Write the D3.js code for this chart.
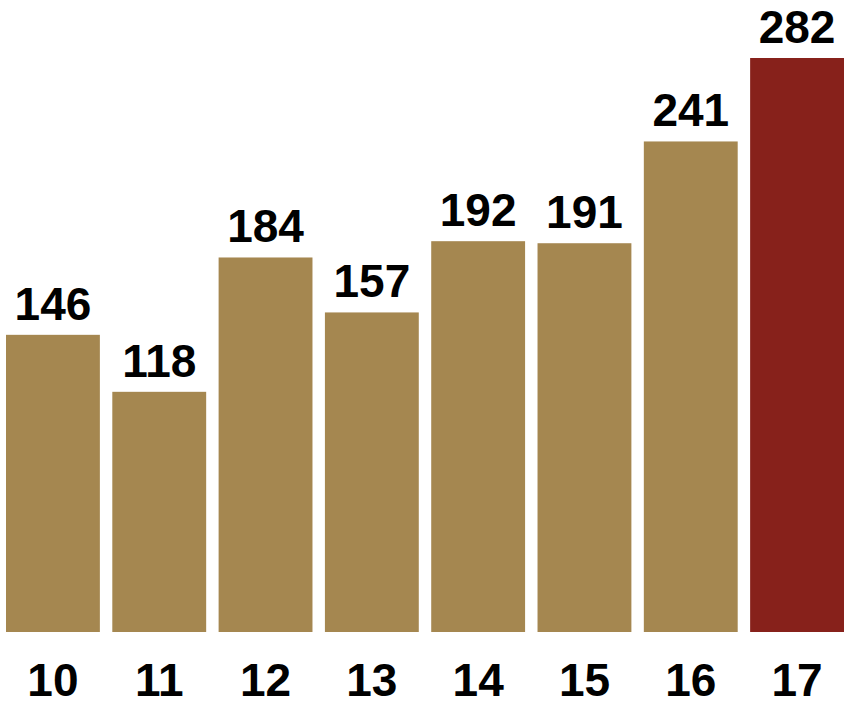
<!DOCTYPE html>
<html>
<head>
<meta charset="utf-8">
<script src="https://cdn.jsdelivr.net/npm/d3@7"></script>
<style>
  body { margin: 0; background: #fff; }
  svg text { font-family: "Liberation Sans", Arial, sans-serif; font-weight: bold; }
</style>
</head>
<body>
<div class="viewbox"></div>
<script>
  // data
  const years = ["10", "11", "12", "13", "14", "15", "16", "17"];
  const counts = [146, 118, 184, 157, 192, 191, 241, 282];
  const highlightYear = "17";

  const svg_width = 846;
  const svg_height = 706;

  let svg = d3.select(".viewbox")
    .append("svg")
    .attr("width", svg_width)
    .attr("height", svg_height)

  let x = d3.scaleBand()
    .domain(years)
    .range([6, 844])
    .paddingInner(0.117)
    .paddingOuter(0)

  let y = d3.scaleLinear()
    .domain([0, 282])
    .range([632, 58])

  let data = years.map((yr, i) => ({ year: yr, value: counts[i] }))

  svg.selectAll("rect.bar")
    .data(data)
    .enter()
    .append("rect")
    .attr("class", "bar")
    .attr("x", d => x(d.year))
    .attr("y", d => y(d.value))
    .attr("width", x.bandwidth())
    .attr("height", d => y(0) - y(d.value))
    .attr("fill", d => d.year === highlightYear ? "#87211B" : "#A58750")

  // value labels on top of the bars
  svg.selectAll("text.value")
    .data(data)
    .enter()
    .append("text")
    .attr("class", "value")
    .attr("x", d => x(d.year) + x.bandwidth() / 2)
    .attr("y", d => y(d.value) - 15)
    .attr("text-anchor", "middle")
    .style("font-size", "46px")
    .text(d => d.value)

  // year axis, no line or ticks
  let axis = svg.append("g")
    .attr("transform", "translate(0," + y(0) + ")")
    .call(d3.axisBottom(x).tickSize(0).tickPadding(0))

  axis.select(".domain").remove()
  axis.selectAll("text")
    .attr("dy", null)
    .attr("y", 64)
    .attr("fill", "#000")
    .style("font-size", "46px")
    .style("font-family", "'Liberation Sans', Arial, sans-serif")
    .style("font-weight", "bold")
</script>
</body>
</html>
